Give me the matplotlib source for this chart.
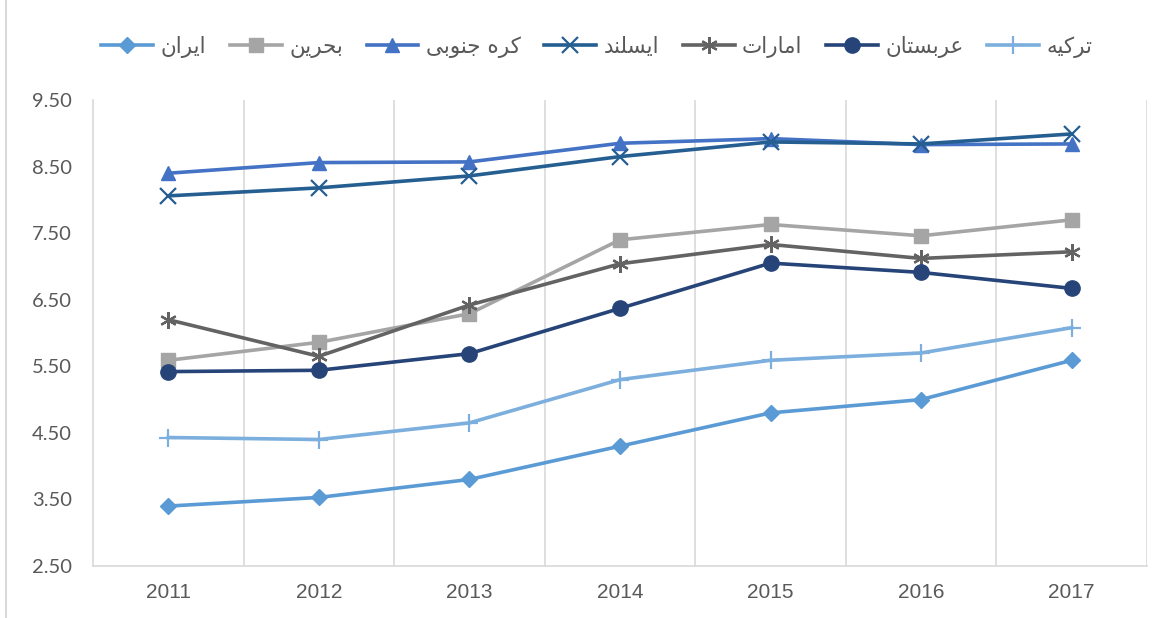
import matplotlib.pyplot as plt
from matplotlib.lines import Line2D

years = ['2011', '2012', '2013', '2014', '2015', '2016', '2017']

iran = [3.40, 3.53, 3.80, 4.30, 4.80, 5.00, 5.59]
bahrain = [5.59, 5.86, 6.29, 7.40, 7.63, 7.46, 7.70]
korea = [8.40, 8.56, 8.57, 8.85, 8.92, 8.83, 8.84]
iceland = [8.06, 8.18, 8.36, 8.65, 8.87, 8.84, 8.99]
uae = [6.20, 5.65, 6.42, 7.04, 7.33, 7.12, 7.22]
saudi = [5.42, 5.44, 5.69, 6.37, 7.05, 6.91, 6.67]
turkey = [4.43, 4.40, 4.65, 5.30, 5.59, 5.70, 6.08]

names = ['ایران', 'بحرین', 'کره جنوبی', 'ایسلند', 'امارات', 'عربستان', 'ترکیه']

# presentation forms: (isolated, final, initial, medial); None = joins only to the right
forms = {
    'ا': ('\uFE8D', '\uFE8E', None, None),
    'ب': ('\uFE8F', '\uFE90', '\uFE91', '\uFE92'),
    'ت': ('\uFE95', '\uFE96', '\uFE97', '\uFE98'),
    'ج': ('\uFE9D', '\uFE9E', '\uFE9F', '\uFEA0'),
    'ح': ('\uFEA1', '\uFEA2', '\uFEA3', '\uFEA4'),
    'د': ('\uFEA9', '\uFEAA', None, None),
    'ر': ('\uFEAD', '\uFEAE', None, None),
    'س': ('\uFEB1', '\uFEB2', '\uFEB3', '\uFEB4'),
    'ع': ('\uFEC9', '\uFECA', '\uFECB', '\uFECC'),
    'ل': ('\uFEDD', '\uFEDE', '\uFEDF', '\uFEE0'),
    'م': ('\uFEE1', '\uFEE2', '\uFEE3', '\uFEE4'),
    'ن': ('\uFEE5', '\uFEE6', '\uFEE7', '\uFEE8'),
    'ه': ('\uFEE9', '\uFEEA', '\uFEEB', '\uFEEC'),
    'و': ('\uFEED', '\uFEEE', None, None),
    'ی': ('\uFBFC', '\uFBFD', '\uFBFE', '\uFBFF'),
    'ک': ('\uFB8E', '\uFB8F', '\uFB90', '\uFB91'),
}


def shape(word):
    out = []
    for i, ch in enumerate(word):
        if ch not in forms:
            out.append(ch)
            continue
        prev = word[i - 1] if i > 0 else ' '
        nxt = word[i + 1] if i < len(word) - 1 else ' '
        join_prev = prev in forms and forms[prev][2] is not None
        join_next = nxt in forms and forms[ch][2] is not None
        f = forms[ch]
        if join_prev and join_next:
            out.append(f[3])
        elif join_prev:
            out.append(f[1])
        elif join_next:
            out.append(f[2])
        else:
            out.append(f[0])
    return ''.join(out[::-1])


series = [iran, bahrain, korea, iceland, uae, saudi, turkey]
colors = ['#5B9BD5', '#A5A5A5', '#4472C4', '#255E91', '#636363', '#264478', '#7CAFDD']
markers = ['D', 's', '^', 'x', (6, 2, 0), 'o', '+']
msizes = [8, 10, 10, 11, 12, 11, 13]

fig = plt.figure(figsize=(11.67, 6.18), dpi=100)
ax = fig.add_axes([93 / 1167, 1 - 566 / 618, (1147 - 93) / 1167, (566 - 100) / 618])

x = list(range(len(years)))
for vals, c, m, ms, n in zip(series, colors, markers, msizes, names):
    ax.plot(x, vals, color=c, lw=2.6, marker=m, markersize=ms,
            markeredgewidth=1.6 if m in ('x', '+') or isinstance(m, tuple) else 1,
            markerfacecolor=c, markeredgecolor=c, label=shape(n))

ax.set_xlim(-0.5, len(years) - 0.5)
ax.set_ylim(2.5, 9.5)
ax.set_yticks([2.5, 3.5, 4.5, 5.5, 6.5, 7.5, 8.5, 9.5])
ax.set_yticklabels(['%.2f' % v for v in ax.get_yticks()])
ax.set_xticks(x)
ax.set_xticklabels(years)
ax.set_xticks([i + 0.5 for i in range(len(years))], minor=True)
ax.grid(True, which='minor', axis='x', color='#D9D9D9', lw=1.2)
ax.tick_params(which='both', length=0)
ax.tick_params(axis='y', labelsize=14.5, labelcolor='#595959', pad=15)
ax.tick_params(axis='x', labelsize=15, labelcolor='#595959', pad=12)
for lab in ax.get_yticklabels():
    lab.set_fontfamily('Lato')
for lab in ax.get_xticklabels():
    lab.set_fontfamily('Liberation Sans')
for s in ['top', 'right']:
    ax.spines[s].set_visible(False)
for s in ['left', 'bottom']:
    ax.spines[s].set_color('#D9D9D9')
    ax.spines[s].set_linewidth(1.2)

leg = ax.legend(loc='center', bbox_to_anchor=(597 / 1167, 1 - 47 / 618), bbox_transform=fig.transFigure,
                ncol=7, frameon=False, prop={'family': 'DejaVu Sans', 'size': 15.5},
                handlelength=2.4, columnspacing=1.1, handletextpad=0.35)
for t in leg.get_texts():
    t.set_color('#595959')

fig.add_artist(Line2D([6 / 1167, 6 / 1167], [0, 1], color='#D9D9D9', lw=1.5))

plt.savefig('out.png', dpi=100)
